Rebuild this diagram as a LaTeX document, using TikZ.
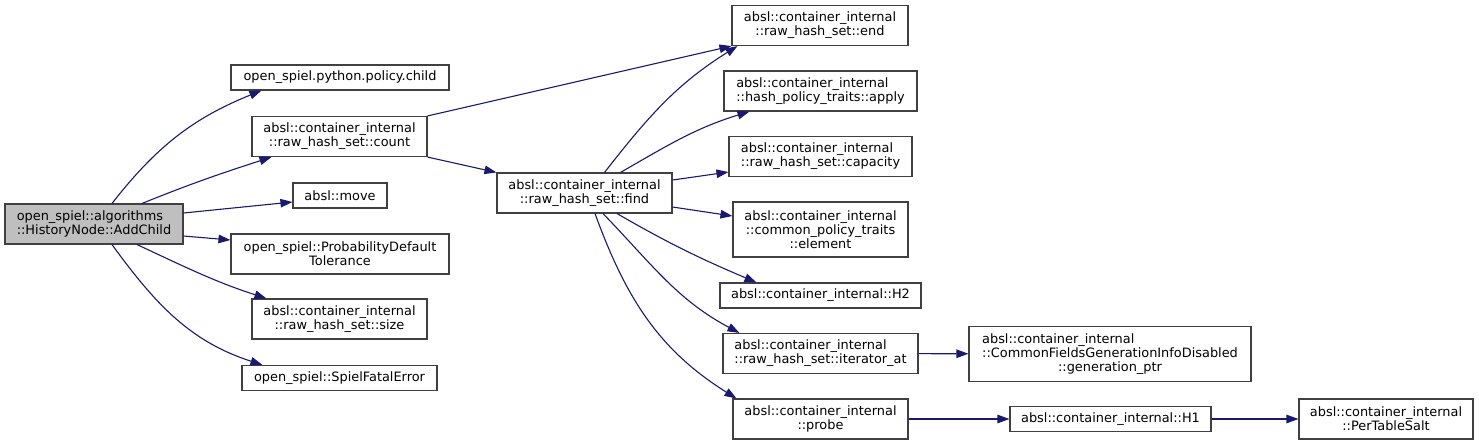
\documentclass[tikz,border=0pt]{standalone}
\usepackage{fontspec}
\setmainfont{DejaVu Sans}
\usepackage{tikz}
\usetikzlibrary{arrows.meta}
\definecolor{edgec}{HTML}{191970}
\definecolor{frame}{HTML}{404040}
\definecolor{rootc}{HTML}{BFBFBF}
\tikzset{
  fn/.style={draw=frame,fill=#1,line width=1.1pt,inner sep=0pt,minimum height=40pt,align=center},
  fn/.default=white,
  call/.style={-{Triangle[length=12pt,width=8.5pt]},line width=1.1pt,draw=edgec},
}

\begin{document}
\begin{tikzpicture}[x=1pt,y=-1pt,font=\fontsize{12.9pt}{14.2pt}\selectfont,
   one/.style={minimum height=25pt},
   three/.style={minimum height=55pt}]
  \useasboundingbox (0,0) rectangle (1479,445);
  % caller
  \node[fn=rootc,minimum width=178pt,align=left] (root) at (94,224) {open\_spiel::algorithms\\::HistoryNode::AddChild};
  % first column
  \node[fn,one,minimum width=218pt] (child) at (340,77.5) {open\_spiel.python.policy.child};
  \node[fn,minimum width=175pt] (count) at (339.5,136.5) {absl::container\_internal\\::raw\_hash\_set::count};
  \node[fn,one,minimum width=94pt] (move) at (340,195.5) {absl::move};
  \node[fn,minimum width=218pt] (prob) at (340,254) {open\_spiel::ProbabilityDefault\\Tolerance};
  \node[fn,minimum width=175pt] (size) at (339.5,319) {absl::container\_internal\\::raw\_hash\_set::size};
  \node[fn,one,minimum width=195pt] (fatal) at (339.5,378) {open\_spiel::SpielFatalError};
  % find and its callees
  \node[fn,minimum width=175pt] (find) at (584.5,193) {absl::container\_internal\\::raw\_hash\_set::find};
  \node[fn,minimum width=176pt] (end) at (820,25.5) {absl::container\_internal\\::raw\_hash\_set::end};
  \node[fn,minimum width=193pt,align=left] (apply) at (820.5,91) {absl::container\_internal\\::hash\_policy\_traits::apply};
  \node[fn,minimum width=183pt,align=left] (cap) at (820.5,156.5) {absl::container\_internal\\::raw\_hash\_set::capacity};
  \node[fn,three,minimum width=175pt] (elem) at (820.5,229.5) {absl::container\_internal\\::common\_policy\_traits\\::element};
  \node[fn,one,minimum width=201pt] (htwo) at (820.5,295.5) {absl::container\_internal::H2};
  \node[fn,minimum width=195pt,align=left] (iter) at (820.5,353.5) {absl::container\_internal\\::raw\_hash\_set::iterator\_at};
  \node[fn,minimum width=175pt] (probe) at (820.5,419) {absl::container\_internal\\::probe};
  % last columns
  \node[fn,three,minimum width=282pt] (gen) at (1110,354) {\rlap{absl::container\_internal}\phantom{::CommonFieldsGenerationInfoDisabled}\\::CommonFieldsGenerationInfoDisabled\\::generation\_ptr};
  \node[fn,one,minimum width=201pt] (hone) at (1110.5,419) {absl::container\_internal::H1};
  \node[fn,minimum width=174pt] (salt) at (1386,419) {absl::container\_internal\\::PerTableSalt};

  \draw[call] ([xshift=18pt]root.north) to[out=52,in=202] ([xshift=31pt]child.south west);
  \draw[call] ([xshift=48pt]root.north) to[out=22,in=198] ([xshift=20pt]count.south west);
  \draw[call] ([yshift=11pt]root.east) -- ([yshift=-6.5pt]move.west);
  \draw[call] ([yshift=-12pt]root.east) -- ([yshift=14pt]prob.west);
  \draw[call] ([xshift=43pt]root.south) to[out=-25,in=162] ([xshift=15pt]size.north west);
  \draw[call] ([xshift=18pt]root.south) to[out=-54,in=162] ([xshift=21pt]fatal.north west);
  \draw[call] (count.north east) -- (end.south west);
  \draw[call] (count.south east) -- (find.north west);
  \draw[call] ([xshift=20pt]find.north) to[out=52,in=212] ([xshift=6pt]end.south west);
  \draw[call] ([xshift=36pt]find.north) to[out=30,in=197] ([xshift=26pt]apply.south west);
  \draw[call] ([yshift=13pt]find.east) -- ([yshift=5pt]cap.south west);
  \draw[call] ([yshift=-14pt]find.east) -- ([yshift=13.5pt]elem.west);
  \draw[call] ([xshift=32.5pt]find.south) to[out=-30,in=157] ([xshift=37pt]htwo.north west);
  \draw[call] ([xshift=18.5pt]find.south) to[out=-46,in=152] ([xshift=17pt]iter.north west);
  \draw[call] ([xshift=10.5pt]find.south) to[out=-70,in=148] ([xshift=4pt]probe.north west);
  \draw[call] (iter) -- (gen);
  \draw[call] (probe) -- (hone);
  \draw[call] (hone) -- (salt);
\end{tikzpicture}
\end{document}
